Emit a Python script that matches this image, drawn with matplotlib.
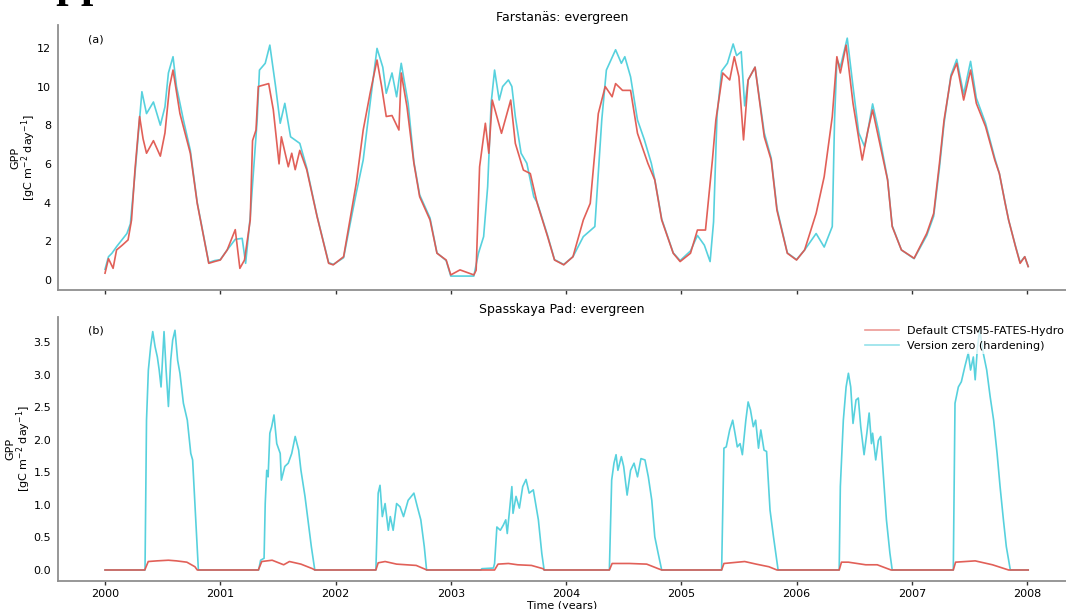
import matplotlib
matplotlib.use("Agg")
import matplotlib.pyplot as plt
import numpy as np

# ---------------- data ----------------
# Farstanäs: evergreen  -- default model (red)
farst_def_t = [2000.00, 2000.03, 2000.07, 2000.10, 2000.15, 2000.20, 2000.23, 2000.26, 2000.30, 2000.33,
               2000.36, 2000.42, 2000.48, 2000.52, 2000.56, 2000.59, 2000.65, 2000.74, 2000.80, 2000.85,
               2000.90, 2000.95, 2001.00, 2001.06, 2001.13, 2001.17, 2001.21, 2001.26, 2001.28, 2001.31,
               2001.33, 2001.42, 2001.46, 2001.51, 2001.53, 2001.59, 2001.62, 2001.65, 2001.69, 2001.75,
               2001.84, 2001.94, 2001.98, 2002.07, 2002.13, 2002.18, 2002.24, 2002.30, 2002.36, 2002.40,
               2002.44, 2002.49, 2002.55, 2002.57, 2002.62, 2002.68, 2002.73, 2002.82, 2002.88, 2002.96,
               2003.00, 2003.08, 2003.20, 2003.22, 2003.25, 2003.30, 2003.33, 2003.36, 2003.44, 2003.52,
               2003.56, 2003.63, 2003.69, 2003.75, 2003.84, 2003.90, 2003.98, 2004.06, 2004.15, 2004.21,
               2004.28, 2004.34, 2004.40, 2004.43, 2004.49, 2004.56, 2004.62, 2004.71, 2004.77, 2004.83,
               2004.93, 2004.99, 2005.08, 2005.14, 2005.21, 2005.27, 2005.30, 2005.36, 2005.42, 2005.46,
               2005.50, 2005.54, 2005.58, 2005.64, 2005.72, 2005.78, 2005.83, 2005.92, 2006.00, 2006.07,
               2006.17, 2006.24, 2006.31, 2006.35, 2006.38, 2006.43, 2006.49, 2006.57, 2006.62, 2006.66,
               2006.71, 2006.79, 2006.83, 2006.91, 2007.02, 2007.13, 2007.19, 2007.24, 2007.28, 2007.34,
               2007.39, 2007.45, 2007.51, 2007.56, 2007.64, 2007.72, 2007.76, 2007.81, 2007.84, 2007.90,
               2007.94, 2007.98, 2008.01]
farst_def_v = [0.35, 1.10, 0.60, 1.55, 1.80, 2.07, 3.10, 5.70, 8.45, 7.30,
               6.55, 7.20, 6.40, 7.60, 10.00, 10.85, 8.60, 6.55, 3.96, 2.40,
               0.86, 0.95, 1.03, 1.55, 2.60, 0.60, 1.03, 3.10, 7.20, 7.75,
               10.00, 10.15, 8.80, 6.00, 7.40, 5.85, 6.55, 5.70, 6.70, 5.70,
               3.27, 0.86, 0.78, 1.20, 3.27, 5.00, 7.75, 9.65, 11.37, 10.00,
               8.45, 8.50, 7.75, 10.70, 8.95, 6.03, 4.30, 3.10, 1.38, 1.03,
               0.26, 0.52, 0.26, 0.50, 5.85, 8.10, 6.55, 9.30, 7.58, 9.30,
               7.06, 5.68, 5.50, 3.96, 2.24, 1.03, 0.78, 1.20, 3.10, 3.96,
               8.60, 10.00, 9.47, 10.15, 9.80, 9.80, 7.58, 6.03, 5.17, 3.10,
               1.38, 0.95, 1.38, 2.58, 2.58, 6.20, 8.27, 10.70, 10.34, 11.54,
               10.50, 7.24, 10.34, 11.00, 7.40, 6.20, 3.60, 1.38, 1.03, 1.55,
               3.44, 5.34, 8.44, 11.54, 10.70, 12.14, 9.13, 6.20, 7.75, 8.79,
               7.40, 5.17, 2.76, 1.55, 1.12, 2.41, 3.44, 6.03, 8.27, 10.50,
               11.20, 9.30, 10.85, 9.13, 7.93, 6.20, 5.50, 3.96, 3.10, 1.72,
               0.86, 1.20, 0.69]

# Farstanäs: evergreen  -- version zero / hardening (cyan)
farst_hard_t = [2000.00, 2000.03, 2000.06, 2000.10, 2000.19, 2000.22, 2000.26, 2000.32, 2000.36, 2000.42,
                2000.48, 2000.52, 2000.55, 2000.59, 2000.62, 2000.68, 2000.74, 2000.80, 2000.85, 2000.90,
                2000.95, 2001.00, 2001.06, 2001.13, 2001.19, 2001.22, 2001.26, 2001.32, 2001.34, 2001.39,
                2001.43, 2001.48, 2001.52, 2001.56, 2001.61, 2001.69, 2001.75, 2001.84, 2001.94, 2001.98,
                2002.07, 2002.13, 2002.18, 2002.24, 2002.30, 2002.36, 2002.41, 2002.44, 2002.49, 2002.53,
                2002.57, 2002.63, 2002.68, 2002.73, 2002.82, 2002.88, 2002.96, 2003.00, 2003.08, 2003.20,
                2003.24, 2003.285, 2003.32, 2003.35, 2003.38, 2003.42, 2003.45, 2003.50, 2003.53, 2003.56,
                2003.61, 2003.66, 2003.72, 2003.75, 2003.84, 2003.90, 2003.98, 2004.06, 2004.15, 2004.25,
                2004.31, 2004.35, 2004.43, 2004.48, 2004.51, 2004.56, 2004.62, 2004.68, 2004.74, 2004.77,
                2004.83, 2004.93, 2004.99, 2005.08, 2005.14, 2005.20, 2005.25, 2005.28, 2005.31, 2005.35,
                2005.40, 2005.45, 2005.48, 2005.52, 2005.55, 2005.58, 2005.64, 2005.72, 2005.78, 2005.83,
                2005.92, 2006.00, 2006.07, 2006.17, 2006.24, 2006.31, 2006.33, 2006.35, 2006.38, 2006.44,
                2006.49, 2006.54, 2006.59, 2006.62, 2006.66, 2006.71, 2006.79, 2006.83, 2006.91, 2007.02,
                2007.13, 2007.19, 2007.24, 2007.28, 2007.34, 2007.39, 2007.45, 2007.51, 2007.56, 2007.64,
                2007.72, 2007.76, 2007.81, 2007.84, 2007.90, 2007.94, 2007.98, 2008.01]
farst_hard_v = [0.55, 1.20, 1.38, 1.72, 2.40, 2.90, 5.50, 9.73, 8.60, 9.20,
                8.00, 8.95, 10.70, 11.54, 10.00, 8.27, 6.70, 4.00, 2.45, 0.90,
                1.00, 1.05, 1.55, 2.10, 2.15, 0.86, 3.27, 8.27, 10.85, 11.20,
                12.14, 10.00, 8.10, 9.13, 7.40, 7.06, 5.80, 3.30, 0.90, 0.80,
                1.15, 3.00, 4.50, 6.20, 9.13, 11.97, 11.00, 9.65, 10.70, 9.47,
                11.20, 9.13, 6.10, 4.40, 3.20, 1.40, 1.00, 0.20, 0.20, 0.20,
                1.38, 2.24, 4.82, 9.13, 10.85, 9.30, 10.00, 10.34, 10.00, 8.44,
                6.55, 6.03, 4.30, 4.00, 2.30, 1.05, 0.80, 1.20, 2.24, 2.76,
                8.27, 10.85, 11.90, 11.20, 11.54, 10.50, 8.27, 7.24, 6.03, 5.20,
                3.15, 1.40, 1.00, 1.50, 2.30, 1.80, 0.95, 3.00, 8.50, 10.80,
                11.20, 12.20, 11.60, 11.80, 9.00, 10.34, 11.00, 7.60, 6.30, 3.70,
                1.40, 1.05, 1.55, 2.40, 1.70, 2.76, 8.30, 11.40, 11.00, 12.50,
                10.00, 7.60, 6.90, 7.75, 9.10, 7.75, 5.20, 2.80, 1.55, 1.10,
                2.30, 3.30, 5.80, 8.10, 10.60, 11.40, 9.60, 11.30, 9.40, 8.10,
                6.30, 5.50, 4.00, 3.10, 1.75, 0.90, 1.20, 0.70]

# Spasskaya Pad: evergreen -- default model (red)
spas_def_t = [2000.00, 2000.345, 2000.375, 2000.45, 2000.55, 2000.62, 2000.71, 2000.78, 2000.80,
              2001.33, 2001.36, 2001.45, 2001.55, 2001.60, 2001.70, 2001.80, 2001.82,
              2002.35, 2002.37, 2002.43, 2002.53, 2002.70, 2002.78, 2002.79,
              2003.38, 2003.41, 2003.50, 2003.58, 2003.70, 2003.80, 2003.81,
              2004.376, 2004.40, 2004.55, 2004.70, 2004.80, 2004.83,
              2005.35, 2005.37, 2005.55, 2005.65, 2005.76, 2005.83,
              2006.37, 2006.39, 2006.45, 2006.60, 2006.70, 2006.82,
              2007.36, 2007.38, 2007.55, 2007.70, 2007.84, 2008.01]
spas_def_v = [0.0, 0.0, 0.13, 0.14, 0.15, 0.14, 0.12, 0.05, 0.0,
              0.0, 0.13, 0.15, 0.08, 0.13, 0.09, 0.02, 0.0,
              0.0, 0.11, 0.13, 0.09, 0.07, 0.01, 0.0,
              0.0, 0.09, 0.10, 0.08, 0.07, 0.02, 0.0,
              0.0, 0.10, 0.10, 0.09, 0.02, 0.0,
              0.0, 0.10, 0.13, 0.09, 0.05, 0.0,
              0.0, 0.12, 0.12, 0.08, 0.08, 0.0,
              0.0, 0.12, 0.14, 0.08, 0.0, 0.0]

# Spasskaya Pad: evergreen -- version zero / hardening (cyan)
spas_hard_t = [2000.00, 2000.347, 2000.36, 2000.376, 2000.396, 2000.414, 2000.434, 2000.454, 2000.47, 2000.486,
               2000.50, 2000.512, 2000.53, 2000.55, 2000.57, 2000.587, 2000.607, 2000.63, 2000.65, 2000.68,
               2000.714, 2000.744, 2000.76, 2000.78, 2000.80, 2000.81,
               2001.333, 2001.35, 2001.38, 2001.39, 2001.403, 2001.415, 2001.43, 2001.446, 2001.466, 2001.49,
               2001.52, 2001.53, 2001.56, 2001.59, 2001.62, 2001.65, 2001.68, 2001.70, 2001.735, 2001.764,
               2001.79, 2001.82,
               2002.35, 2002.37, 2002.386, 2002.406, 2002.43, 2002.458, 2002.475, 2002.50, 2002.53, 2002.56,
               2002.59, 2002.63, 2002.68, 2002.71, 2002.74, 2002.77, 2002.79,
               2003.26, 2003.27, 2003.37, 2003.38, 2003.40, 2003.43, 2003.456, 2003.477, 2003.49, 2003.53,
               2003.54, 2003.566, 2003.595, 2003.624, 2003.653, 2003.68, 2003.716, 2003.76, 2003.79, 2003.81,
               2004.376, 2004.396, 2004.416, 2004.434, 2004.45, 2004.48, 2004.50, 2004.53, 2004.56, 2004.59,
               2004.62, 2004.65, 2004.685, 2004.714, 2004.744, 2004.77, 2004.80, 2004.83,
               2005.35, 2005.37, 2005.39, 2005.42, 2005.446, 2005.466, 2005.486, 2005.51, 2005.53, 2005.56,
               2005.58, 2005.60, 2005.625, 2005.645, 2005.67, 2005.69, 2005.718, 2005.74, 2005.77, 2005.80,
               2005.84,
               2006.37, 2006.38, 2006.406, 2006.43, 2006.45, 2006.47, 2006.49, 2006.516, 2006.536, 2006.557,
               2006.586, 2006.61, 2006.63, 2006.65, 2006.66, 2006.687, 2006.71, 2006.73, 2006.75, 2006.78,
               2006.81, 2006.83,
               2007.36, 2007.375, 2007.404, 2007.43, 2007.46, 2007.49, 2007.51, 2007.534, 2007.55, 2007.57,
               2007.59, 2007.62, 2007.65, 2007.68, 2007.71, 2007.74, 2007.766, 2007.795, 2007.82, 2007.855,
               2008.01]
spas_hard_v = [0.0, 0.0, 2.30, 3.07, 3.43, 3.66, 3.43, 3.27, 3.07, 2.81,
               3.27, 3.66, 3.07, 2.51, 3.22, 3.53, 3.68, 3.22, 3.02, 2.56,
               2.30, 1.79, 1.69, 1.02, 0.36, 0.0,
               0.0, 0.15, 0.18, 1.02, 1.53, 1.43, 2.10, 2.20, 2.38, 1.94,
               1.79, 1.38, 1.59, 1.64, 1.79, 2.05, 1.84, 1.53, 1.13, 0.72,
               0.36, 0.0,
               0.0, 1.18, 1.30, 0.82, 1.02, 0.61, 0.82, 0.61, 1.02, 0.97,
               0.82, 1.07, 1.18, 0.97, 0.77, 0.36, 0.0,
               0.0, 0.02, 0.03, 0.10, 0.66, 0.61, 0.69, 0.77, 0.56, 1.28,
               0.87, 1.13, 0.95, 1.28, 1.39, 1.18, 1.23, 0.77, 0.25, 0.0,
               0.0, 1.38, 1.64, 1.77, 1.53, 1.74, 1.59, 1.15, 1.53, 1.64,
               1.43, 1.71, 1.69, 1.43, 1.07, 0.51, 0.25, 0.0,
               0.0, 1.87, 1.89, 2.15, 2.30, 2.10, 1.89, 1.94, 1.77, 2.30,
               2.58, 2.46, 2.20, 2.30, 1.87, 2.15, 1.84, 1.82, 0.92, 0.51,
               0.0,
               0.0, 1.28, 2.30, 2.81, 3.02, 2.81, 2.25, 2.61, 2.64, 2.20,
               1.77, 2.10, 2.41, 1.94, 2.10, 1.69, 1.99, 2.05, 1.53, 0.77,
               0.26, 0.0,
               0.0, 2.56, 2.81, 2.89, 3.12, 3.33, 3.07, 3.27, 2.92, 3.43,
               3.68, 3.33, 3.07, 2.66, 2.30, 1.79, 1.28, 0.77, 0.36, 0.0,
               0.0]

year_ticks = [2000, 2001, 2002, 2003, 2004, 2005, 2006, 2007, 2008]
top_yticks = [0, 2, 4, 6, 8, 10, 12]
bot_yticks = [0.0, 0.5, 1.0, 1.5, 2.0, 2.5, 3.0, 3.5]
series_labels = ["Default CTSM5-FATES-Hydro", "Version zero (hardening)"]
panel_titles = ["Farstanäs: evergreen", "Spasskaya Pad: evergreen"]
panel_tags = ["(a)", "(b)"]
y_label = "GPP\n[gC m$^{-2}$ day$^{-1}$]"

# ---------------- styling ----------------
RED = "#e0574f"
CYAN = "#4ecfdc"
SPINE = "#8f8f8f"
W, H = 1066, 609
fig = plt.figure(figsize=(W / 100, H / 100), dpi=100)
plt.rcParams['font.family'] = ['DejaVu Sans']

def frac_box(x0, y0, x1, y1):
    return [x0 / W, 1 - y1 / H, (x1 - x0) / W, (y1 - y0) / H]

AX_X0, AX_X1 = 58, 1066
ax1 = fig.add_axes(frac_box(AX_X0, 25, AX_X1, 290))
ax2 = fig.add_axes(frac_box(AX_X0, 317, AX_X1, 581))

xl = (1999.592, 2008.338)

def style(ax, label_right_px):
    for s in ["top", "right"]:
        ax.spines[s].set_visible(False)
    for s in ["left", "bottom"]:
        ax.spines[s].set_color(SPINE)
        ax.spines[s].set_linewidth(1.3)
    ax.set_xlim(*xl)
    ax.set_xticks(year_ticks)
    ax.tick_params(axis="x", length=3, width=1, color="#333333", labelsize=8, pad=3)
    ax.tick_params(axis="y", length=0, labelsize=8, pad=5)
    ax.set_ylabel(y_label, fontsize=8, linespacing=0.95)
    ax.yaxis.set_label_coords((label_right_px - AX_X0) / (AX_X1 - AX_X0), 0.5)

# top panel
ax1.plot(farst_def_t, farst_def_v, color=RED, lw=1.2, alpha=0.95, zorder=3)
ax1.plot(farst_hard_t, farst_hard_v, color=CYAN, lw=1.2, alpha=0.95, zorder=2)
style(ax1, 38)
ax1.set_ylim(-0.52, 13.18)
ax1.set_yticks(top_yticks)
ax1.set_xticklabels([])
ax1.set_title(panel_titles[0], fontsize=9, pad=3)
ax1.text(2000 - 17 / 115.25, 12.45, panel_tags[0], fontsize=8, ha="left", va="center")

# bottom panel
ax2.plot(spas_def_t, spas_def_v, color=RED, lw=1.2, alpha=0.95, zorder=3, label=series_labels[0])
ax2.plot(spas_hard_t, spas_hard_v, color=CYAN, lw=1.2, alpha=0.95, zorder=2, label=series_labels[1])
style(ax2, 33)
ax2.set_ylim(-0.169, 3.884)
ax2.set_yticks(bot_yticks)
ax2.set_yticklabels([f"{v:.1f}" for v in bot_yticks])
ax2.set_xticklabels([str(y) for y in year_ticks])
ax2.set_title(panel_titles[1], fontsize=9, pad=3)
ax2.text(2000 - 17 / 115.25, 3.67, panel_tags[1], fontsize=8, ha="left", va="center")
ax2.set_xlabel("Time (years)", fontsize=8, labelpad=1)
leg = ax2.legend(loc="upper right", bbox_to_anchor=((1073 - AX_X0) / (AX_X1 - AX_X0), 1.0), fontsize=8,
                 frameon=True, framealpha=0.75, edgecolor="none", handlelength=3.1, handletextpad=0.7,
                 borderpad=0.3, labelspacing=0.45)
for h in leg.get_lines():
    h.set_alpha(0.6)

# cut-off page heading at the very top
fig.text(25 / W, 1 + 2.6 / H, "Appendix", fontsize=32, family="Liberation Serif",
         weight="bold", va="baseline", ha="left")

fig.savefig("out.png", dpi=100)
